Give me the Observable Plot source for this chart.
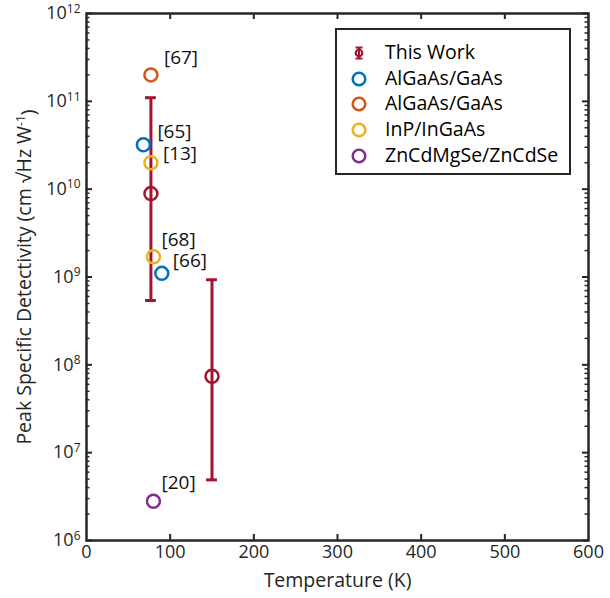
<!DOCTYPE html>
<html><head><meta charset="utf-8">
<script src="https://cdn.jsdelivr.net/npm/d3@7"></script>
<script src="https://cdn.jsdelivr.net/npm/@observablehq/plot@0.6"></script>
<style>
body{margin:0;background:#fff;}
#wrap{position:relative;width:610px;height:598px;font-family:"Open Sans",Lato,sans-serif;color:#000;}
#legend{position:absolute;left:335px;top:28px;width:232px;height:143px;border:2px solid #262626;background:#fff;box-sizing:content-box;}
.row{position:absolute;left:0;height:24px;width:100%;}
.row svg{position:absolute;left:12px;top:2px;}
.row span{position:absolute;left:48px;top:-1px;font-size:19.5px;line-height:24px;white-space:nowrap;color:#000;}
</style></head>
<body><div id="wrap"><div id="chart"></div><div id="legend"></div></div>
<script>
// ---- data ----
const thisWorkT = [77, 150];
const thisWorkD = [8.9e9, 7.4e7];
const thisWorkLo = [5.4e8, 4.9e6];
const thisWorkHi = [1.1e11, 9.3e8];

const blueT = [68, 90];
const blueD = [3.2e10, 1.1e9];
const blueRef = ["[65]", "[66]"];

const orangeT = [77];
const orangeD = [2.0e11];
const orangeRef = ["[67]"];

const yellowT = [77, 80];
const yellowD = [2.0e10, 1.7e9];
const yellowRef = ["[13]", "[68]"];

const purpleT = [80];
const purpleD = [2.8e6];
const purpleRef = ["[20]"];

const xTicks = [0, 100, 200, 300, 400, 500, 600];
const yTicks = [1e6, 1e7, 1e8, 1e9, 1e10, 1e11, 1e12];

const legendNames = ["This Work", "AlGaAs/GaAs", "AlGaAs/GaAs", "InP/InGaAs", "ZnCdMgSe/ZnCdSe"];
const xTitle = "Temperature (K)";
const yTitle = "Peak Specific Detectivity (cm \u221AHz W";

// ---- styles ----
const RED = "#A2142F", BLUE = "#0072BD", ORANGE = "#D95319", YELLOW = "#EDB120", PURPLE = "#7E2F8E", AX = "#262626";
const FONT = "'Open Sans', Lato, sans-serif";
const labelOffsets = {"[67]": [13, -17], "[65]": [14, -13], "[13]": [12, -9], "[68]": [8, -17], "[66]": [11, -12], "[20]": [8, -18]};

const thisWork = thisWorkT.map((t, i) => ({t, d: thisWorkD[i], lo: thisWorkLo[i], hi: thisWorkHi[i]}));
const mk = (T, D, R, color) => T.map((t, i) => ({t, d: D[i], ref: R[i], color}));
const refs = [
  ...mk(blueT, blueD, blueRef, BLUE),
  ...mk(orangeT, orangeD, orangeRef, ORANGE),
  ...mk(yellowT, yellowD, yellowRef, YELLOW),
  ...mk(purpleT, purpleD, purpleRef, PURPLE)
];
const minorY = [];
for (let e = 6; e < 12; e++) for (let m = 2; m <= 9; m++) minorY.push(m * Math.pow(10, e));

const W = 610, H = 598, mL = 86, mR = 22, mT = 13, mB = 58;
const pw = W - mL - mR, ph = H - mT - mB;
const CAP = 6.5;

const chart = Plot.plot({
  width: W, height: H,
  marginLeft: mL, marginRight: mR, marginTop: mT, marginBottom: mB,
  style: {fontFamily: FONT, fontSize: "18px", color: AX, background: "white", overflow: "visible"},
  x: {domain: [0, 600], label: null},
  y: {type: "log", domain: [1e6, 1e12], label: null},
  marks: [
    // inward ticks
    Plot.ruleX(xTicks.slice(1, -1), {x: d => d, stroke: AX, strokeWidth: 2, insetTop: ph - 6}),
    Plot.ruleX(xTicks.slice(1, -1), {x: d => d, stroke: AX, strokeWidth: 2, insetBottom: ph - 6}),
    Plot.ruleY(yTicks, {y: d => d, stroke: AX, strokeWidth: 2, insetRight: pw - 6}),
    Plot.ruleY(yTicks, {y: d => d, stroke: AX, strokeWidth: 2, insetLeft: pw - 6}),
    Plot.ruleY(minorY, {y: d => d, stroke: AX, strokeWidth: 1.5, insetRight: pw - 3.5}),
    Plot.ruleY(minorY, {y: d => d, stroke: AX, strokeWidth: 1.5, insetLeft: pw - 3.5}),
    Plot.axisX({ticks: xTicks, tickSize: 0, tickPadding: 5, fontSize: 18, fill: AX, label: null}),
    Plot.axisY({ticks: yTicks, tickSize: 0, tickPadding: 6, fontSize: 18, fill: AX, label: null,
      tickFormat: d => String(Math.round(Math.log10(d)))}),
    Plot.frame({stroke: AX, strokeWidth: 2.5}),
    // error bars
    Plot.ruleX(thisWork, {x: "t", y1: "lo", y2: "hi", stroke: RED, strokeWidth: 3}),
    Plot.ruleY(thisWork, {y: "lo", x1: d => d.t - CAP, x2: d => d.t + CAP, stroke: RED, strokeWidth: 3}),
    Plot.ruleY(thisWork, {y: "hi", x1: d => d.t - CAP, x2: d => d.t + CAP, stroke: RED, strokeWidth: 3}),
    Plot.dot(thisWork, {x: "t", y: "d", r: 6.5, stroke: RED, strokeWidth: 2.5, fill: "none"}),
    Plot.dot(refs, {x: "t", y: "d", r: 6.5, stroke: d => d.color, strokeWidth: 2.5, fill: "none"}),
    ...refs.map(r => Plot.text([r], {x: "t", y: "d", text: "ref", textAnchor: "start",
      dx: labelOffsets[r.ref][0], dy: labelOffsets[r.ref][1], fontSize: 19, fill: "#111"})),
    // axis titles
    Plot.text([xTitle], {frameAnchor: "bottom", textAnchor: "middle", dy: 46, text: d => d, fontSize: 19.5, fill: AX}),
    Plot.text([yTitle], {frameAnchor: "left", textAnchor: "middle", dx: -62, rotate: -90, text: d => d, fontSize: 19.5, fill: AX})
  ]
});
document.getElementById("chart").appendChild(chart);

// superscript exponents on y tick labels
d3.select(chart).selectAll('g[aria-label="y-axis tick label"] text').each(function () {
  const e = this.textContent;
  const t = d3.select(this);
  t.text("10");
  t.append("tspan").attr("dy", "-0.55em").attr("font-size", "12px").text(e);
});
// y title: superscript -1 and closing paren
d3.select(chart).selectAll("text").filter(function () { return this.textContent === yTitle; }).each(function () {
  const t = d3.select(this);
  t.append("tspan").attr("dy", "-0.5em").attr("font-size", "12px").text("-1");
  t.append("tspan").attr("dy", "0.5em").text(")");
});

// legend
const legendColors = [RED, BLUE, ORANGE, YELLOW, PURPLE];
const leg = document.getElementById("legend");
legendNames.forEach((name, i) => {
  const row = document.createElement("div");
  row.className = "row";
  row.style.top = (11 + i * 25.7) + "px";
  let sym;
  if (i === 0) {
    sym = `<svg width="20" height="20"><g stroke="${RED}" fill="none"><line x1="10" x2="10" y1="4" y2="16" stroke-width="2"/><line x1="6.5" x2="13.5" y1="4.5" y2="4.5" stroke-width="2"/><line x1="6.5" x2="13.5" y1="15.5" y2="15.5" stroke-width="2"/><circle cx="10" cy="10" r="3.3" stroke-width="2.2"/></g></svg>`;
  } else {
    sym = `<svg width="20" height="20"><circle cx="10" cy="10" r="6.3" stroke="${legendColors[i]}" stroke-width="2.5" fill="none"/></svg>`;
  }
  row.innerHTML = sym + `<span>${name}</span>`;
  leg.appendChild(row);
});
</script></body></html>
